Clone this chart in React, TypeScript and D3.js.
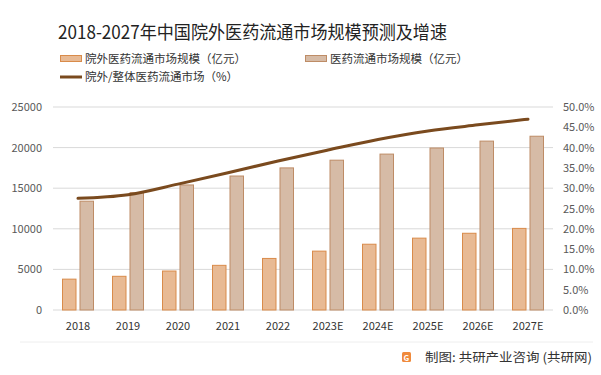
import React from "react";
import * as d3 from "d3";

const categories = ["2018", "2019", "2020", "2021", "2022", "2023E", "2024E", "2025E", "2026E", "2027E"];
const outsideHospital = [3800, 4150, 4800, 5500, 6350, 7250, 8100, 8850, 9450, 10050];
const totalMarket = [13400, 14450, 15400, 16500, 17500, 18450, 19200, 19950, 20800, 21400];
const shareRate = [27.5, 28.4, 31.0, 33.8, 36.7, 39.4, 42.0, 44.1, 45.6, 47.0];
const leftTicks = [0, 5000, 10000, 15000, 20000, 25000];
const rightTicks = [0, 5, 10, 15, 20, 25, 30, 35, 40, 45, 50];

const W = 601;
const H = 375;
const FONT = "'Noto Sans CJK SC', 'Noto Sans', sans-serif";

export default function App() {
  const left = 53, right = 553, top = 107, bottom = 310;
  const x = d3.scaleBand<string>().domain(categories).range([left, right]);
  const yL = d3.scaleLinear().domain([0, 25000]).range([bottom, top]);
  const yR = d3.scaleLinear().domain([0, 50]).range([bottom, top]);
  const bw = 13.5;
  const gap = 4;
  const cx = (c: string) => (x(c) as number) + x.bandwidth() / 2;

  const line = d3
    .line<number>()
    .x((_, i) => cx(categories[i]))
    .y((d) => yR(d))
    .curve(d3.curveMonotoneX);

  return (
    <svg width={W} height={H} style={{ position: "absolute", left: 0, top: 0, background: "#fff" }} fontFamily={FONT}>
      <rect x={0} y={0} width={W} height={H} fill="#fff" />
      <text x={58} y={39} fontSize={18} fill="#222" textLength={389} lengthAdjust="spacingAndGlyphs">2018-2027年中国院外医药流通市场规模预测及增速</text>

      {/* legend */}
      <rect x={60.5} y={55.5} width={21} height={6} fill="#E8BA94" stroke="#D98B4A" strokeWidth={1} />
      <text x={85} y={63} fontSize={11.5} fill="#333">院外医药流通市场规模（亿元）</text>
      <rect x={305.5} y={55.5} width={21} height={6} fill="#D6BBA6" stroke="#BE8C66" strokeWidth={1} />
      <text x={330} y={63} fontSize={11.5} fill="#333">医药流通市场规模（亿元）</text>
      <line x1={60} x2={82} y1={77} y2={77} stroke="#7A4A1E" strokeWidth={3} />
      <text x={85} y={81} fontSize={11.5} fill="#333">院外/整体医药流通市场（%）</text>

      {/* gridlines */}
      {leftTicks.map((t) => (
        <line key={t} x1={left} x2={right} y1={yL(t)} y2={yL(t)} stroke="#D9D9D9" strokeWidth={1} />
      ))}
      {leftTicks.map((t) => (
        <text key={"l" + t} x={42} y={yL(t) + 4} fontSize={11} fill="#595959" textAnchor="end">{t}</text>
      ))}
      {rightTicks.map((t) => (
        <text key={"r" + t} x={563} y={yR(t) + 4} fontSize={11} fill="#595959">{t.toFixed(1) + "%"}</text>
      ))}

      {/* bars */}
      {categories.map((c, i) => (
        <g key={c}>
          <rect
            x={cx(c) - gap / 2 - bw}
            y={yL(outsideHospital[i])}
            width={bw}
            height={yL(0) - yL(outsideHospital[i])}
            fill="#E8BA94"
            stroke="#D98B4A"
            strokeWidth={1}
          />
          <rect
            x={cx(c) + gap / 2}
            y={yL(totalMarket[i])}
            width={bw}
            height={yL(0) - yL(totalMarket[i])}
            fill="#D6BBA6"
            stroke="#BE8C66"
            strokeWidth={1}
          />
          <text x={cx(c)} y={330} fontSize={11} fill="#333" textAnchor="middle">{c}</text>
        </g>
      ))}

      <path d={line(shareRate) || ""} fill="none" stroke="#7A4A1E" strokeWidth={3} strokeLinecap="round" />

      {/* footer */}
      <line x1={20} x2={593} y1={342} y2={342} stroke="#EEEEEE" strokeWidth={1} />
      <rect x={402} y={352} width={9} height={10} rx={1.5} fill="#F08A3C" />
      <text x={403.5} y={360.5} fontSize={8} fontWeight="bold" fill="#fff">G</text>
      <text x={425} y={362} fontSize={12.5} fill="#333" textLength={167} lengthAdjust="spacingAndGlyphs">制图: 共研产业咨询 (共研网)</text>
    </svg>
  );
}
